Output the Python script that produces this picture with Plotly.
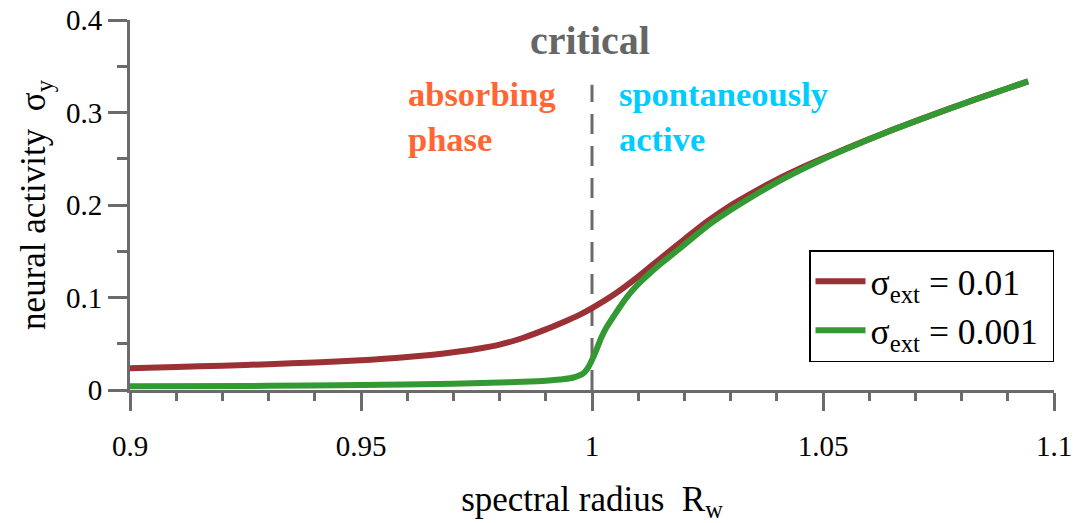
import plotly.graph_objects as go

# ---- data ----
x_red = [0.900, 0.910, 0.920, 0.930, 0.940, 0.950, 0.955, 0.960, 0.965, 0.970,
         0.975, 0.980, 0.985, 0.990, 0.995, 0.9974, 1.000, 1.005, 1.010, 1.015,
         1.020, 1.025, 1.030, 1.035, 1.040, 1.045, 1.050, 1.055, 1.060, 1.065,
         1.070, 1.075, 1.080, 1.085, 1.090, 1.0944]
y_red = [0.0236, 0.0249, 0.0263, 0.0279, 0.0298, 0.0322, 0.0337, 0.0356, 0.0379, 0.0408,
         0.0443, 0.0490, 0.0562, 0.0655, 0.0760, 0.0815, 0.0885, 0.1040, 0.1225, 0.1430,
         0.1630, 0.1825, 0.1995, 0.2140, 0.2275, 0.2395, 0.2505, 0.2610, 0.2712, 0.2812,
         0.2907, 0.2999, 0.3089, 0.3177, 0.3262, 0.3337]

x_green = [0.900, 0.930, 0.950, 0.970, 0.980, 0.985, 0.990, 0.994, 0.996, 0.998,
           0.999, 1.000, 1.001, 1.002, 1.003, 1.0046, 1.0064, 1.0082, 1.010, 1.0118,
           1.015, 1.019, 1.025, 1.030, 1.035, 1.040, 1.045, 1.050, 1.055, 1.060,
           1.065, 1.070, 1.075, 1.080, 1.085, 1.090, 1.0944]
y_green = [0.0040, 0.0045, 0.0055, 0.0068, 0.0080, 0.0088, 0.0100, 0.0118, 0.0135, 0.0175,
           0.0230, 0.0324, 0.0440, 0.0565, 0.0665, 0.0790, 0.0925, 0.1045, 0.1145, 0.1230,
           0.1370, 0.1530, 0.1775, 0.1945, 0.2100, 0.2245, 0.2375, 0.2495, 0.2605, 0.2710,
           0.2810, 0.2905, 0.2998, 0.3088, 0.3176, 0.3262, 0.3337]

x_tickvals = [0.9, 0.95, 1.0, 1.05, 1.1]
x_ticktext = ["0.9", "0.95", "1", "1.05", "1.1"]
y_tickvals = [0.0, 0.1, 0.2, 0.3, 0.4]
y_ticktext = ["0", "0.1", "0.2", "0.3", "0.4"]

critical_x = [1.0, 1.0]
critical_y = [0.0, 0.33]

series_names = ["σ<sub>ext</sub> = 0.01\u00a0", "σ<sub>ext</sub> = 0.001\u00a0"]

# ---- styles ----
GRAY = "#6b6b6b"
RED = "#9b3134"
GREEN = "#339933"
FONT = "Liberation Serif, Times New Roman, Times, serif"

fig = go.Figure()

fig.add_trace(go.Scatter(
    x=critical_x, y=critical_y, mode="lines",
    line=dict(color=GRAY, width=3, dash="20px,12px"),
    showlegend=False, hoverinfo="skip"))

fig.add_trace(go.Scatter(
    x=x_red, y=y_red, mode="lines", name=series_names[0],
    line=dict(color=RED, width=6, shape="spline", smoothing=0.8)))

fig.add_trace(go.Scatter(
    x=x_green, y=y_green, mode="lines", name=series_names[1],
    line=dict(color=GREEN, width=6, shape="spline", smoothing=0.8)))

fig.add_annotation(x=0.9995, y=0.378, xref="x", yref="y", text="<b>critical</b>",
                   showarrow=False, xanchor="center", yanchor="middle",
                   font=dict(family=FONT, size=40, color="#666666"))
fig.add_annotation(x=0.9597, y=0.296, xref="x", yref="y",
                   text="<b>absorbing<br>phase</b>", align="left",
                   showarrow=False, xanchor="left", yanchor="middle",
                   font=dict(family=FONT, size=34.5, color="#ff6633"))
fig.add_annotation(x=1.0054, y=0.296, xref="x", yref="y",
                   text="<b>spontaneously<br>active</b>", align="left",
                   showarrow=False, xanchor="left", yanchor="middle",
                   font=dict(family=FONT, size=34.5, color="#00ccff"))

fig.update_layout(
    width=1075, height=523,
    margin=dict(l=130, r=21, t=20, b=133, autoexpand=False),
    paper_bgcolor="white", plot_bgcolor="white",
    font=dict(family=FONT, color="black"),
    legend=dict(x=1.0, y=0.378, xanchor="right", yanchor="top",
                bgcolor="white", bordercolor="black", borderwidth=1.5,
                font=dict(family=FONT, size=35.5, color="black"),
                itemwidth=50, tracegroupgap=0),
    xaxis=dict(
        range=[0.9, 1.1], showline=True, linecolor=GRAY, linewidth=3,
        showgrid=False, zeroline=False, automargin=False,
        tickmode="array", tickvals=x_tickvals, ticktext=x_ticktext,
        ticks="outside", ticklen=18, tickwidth=3, tickcolor=GRAY,
        ticklabelstandoff=10,
        tickfont=dict(family=FONT, size=29, color="black"),
        minor=dict(dtick=0.01, tick0=0.9, ticks="outside", ticklen=8,
                   tickwidth=2.5, tickcolor=GRAY, showgrid=False),
        title=dict(text="spectral radius\u00a0\u00a0R<sub>w</sub>",
                   font=dict(family=FONT, size=35, color="black"), standoff=26)),
    yaxis=dict(
        range=[0, 0.4], showline=True, linecolor=GRAY, linewidth=3,
        showgrid=False, zeroline=False, automargin=False,
        tickmode="array", tickvals=y_tickvals, ticktext=y_ticktext,
        ticks="outside", ticklen=19, tickwidth=3, tickcolor=GRAY,
        tickfont=dict(family=FONT, size=29, color="black"),
        minor=dict(dtick=0.05, tick0=0, ticks="outside", ticklen=10,
                   tickwidth=2.5, tickcolor=GRAY, showgrid=False),
        title=dict(text="neural activity\u00a0\u00a0σ<sub>y</sub>",
                   font=dict(family=FONT, size=35, color="black"), standoff=10)),
)

fig.write_html("out.html",
               config={"displayModeBar": False},
               post_script="document.body.style.margin='0';"
                           "document.body.style.overflow='hidden';")
